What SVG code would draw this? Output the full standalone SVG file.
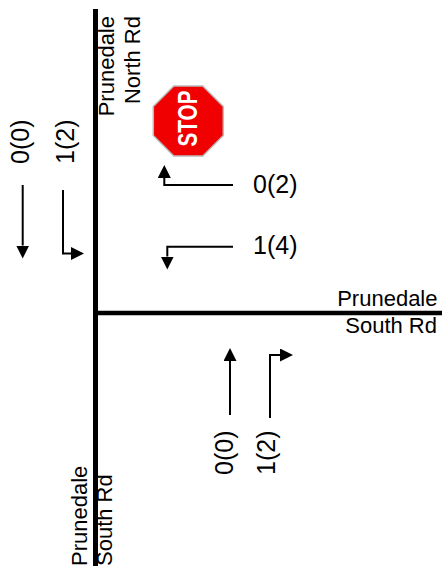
<svg xmlns="http://www.w3.org/2000/svg" width="442" height="572" viewBox="0 0 442 572">
<style>
.road{stroke:#000;stroke-width:5;fill:none}
.lbl{font-family:"Liberation Sans",Arial,sans-serif;font-size:22px;fill:#000}
.num{font-family:"Liberation Sans",Arial,sans-serif;font-size:25px;fill:#000}
.arr{stroke:#000;stroke-width:2;fill:none;marker-end:url(#ah)}
</style>
<defs>
<marker id="ah" markerUnits="userSpaceOnUse" markerWidth="13" markerHeight="13" refX="0" refY="6.5" orient="auto" viewBox="0 0 13 13">
<path d="M0,0 L13,6.5 L0,13 Z" fill="#000"/>
</marker>
</defs>
<rect width="442" height="572" fill="#fff"/>
<g id="roads">
<line class="road" x1="95.5" y1="9" x2="95.5" y2="566"/>
<line class="road" x1="98" y1="313" x2="442" y2="313" style="stroke-width:4.5"/>
</g>
<g id="road-labels">
<text class="lbl" text-anchor="end" transform="translate(114,16) rotate(-90)">Prunedale</text>
<text class="lbl" text-anchor="end" transform="translate(140,16) rotate(-90)">North Rd</text>
<text class="lbl" text-anchor="end" x="437.5" y="306">Prunedale</text>
<text class="lbl" text-anchor="end" x="437" y="333">South Rd</text>
<text class="lbl" transform="translate(87,566) rotate(-90)">Prunedale</text>
<text class="lbl" transform="translate(112,566) rotate(-90)">South Rd</text>
</g>
<g id="stop-sign">
<polygon points="173.8,86 202.8,86 223.3,106.5 223.3,135.5 202.8,156 173.8,156 153.3,135.5 153.3,106.5" fill="#f00000" stroke="#bbbbbb" stroke-width="1.5"/>
<text transform="translate(196.5,118.5) rotate(-90)" text-anchor="middle" font-family="'Liberation Sans',Arial,sans-serif" font-weight="bold" font-size="27" fill="#fff" textLength="56" lengthAdjust="spacingAndGlyphs">STOP</text>
</g>
<g id="connectors">
<path class="arr" d="M22.7,185 V245.5"/>
<path class="arr" d="M63,190 V253.5 H71"/>
<path class="arr" d="M233,185 H164.3 V178"/>
<path class="arr" d="M233,246.7 H167.3 V256.5"/>
<path class="arr" d="M230,415 V361"/>
<path class="arr" d="M270,418 V355 H280"/>
</g>
<g id="labels">
<text class="num" transform="translate(28.5,164) rotate(-90)">0(0)</text>
<text class="num" transform="translate(74,164) rotate(-90)">1(2)</text>
<text class="num" x="253" y="193">0(2)</text>
<text class="num" x="253" y="253.5">1(4)</text>
<text class="num" transform="translate(233,475) rotate(-90)">0(0)</text>
<text class="num" transform="translate(274.5,475) rotate(-90)">1(2)</text>
</g>
</svg>
